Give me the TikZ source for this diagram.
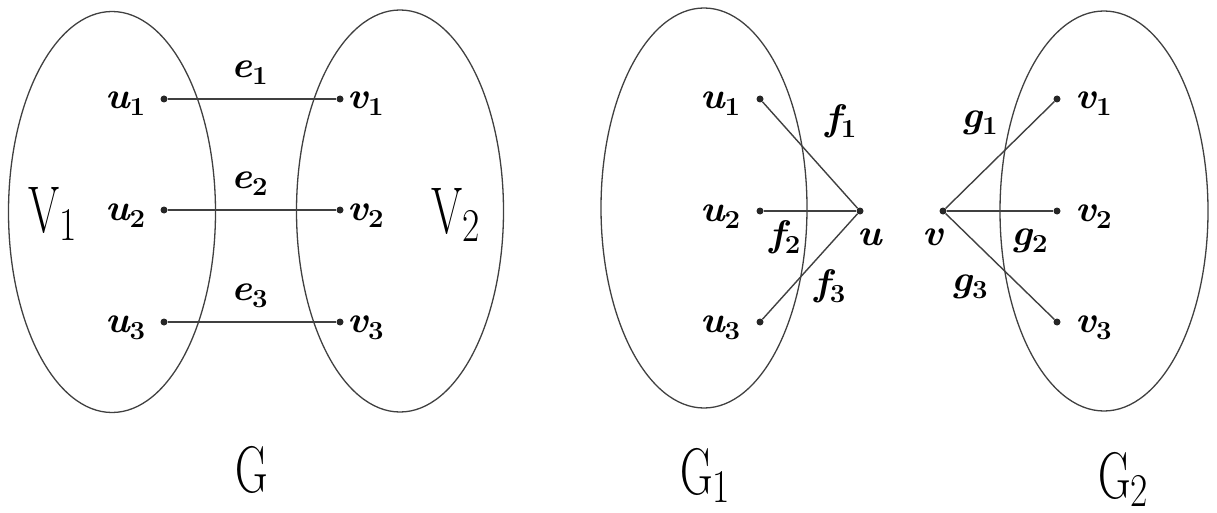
\documentclass[tikz,border=0pt]{standalone}
\usetikzlibrary{shapes.geometric}
\newcommand\smlab[2]{\scalebox{1.06}[1]{\fontsize{37}{37}\selectfont\bfseries\itshape #1\raisebox{-7pt}{\upshape\fontsize{26}{26}\selectfont #2}}}
\newcommand\smone[1]{\scalebox{1.06}[1]{\fontsize{37}{37}\selectfont\bfseries\itshape #1}}
\newcommand\biglab[2]{{\fontsize{66}{66}\selectfont\scalebox{0.68}[1]{#1}}\raisebox{-8pt}{\fontsize{47}{47}\selectfont\scalebox{0.8}[1]{#2}}}
\tikzset{
  dot/.style={circle, fill=black!85, inner sep=0pt, minimum size=7pt},
  lbl/.style={inner sep=0pt, anchor=base west},
  edge/.style={draw=black!75, line width=1.4pt},
  set/.style={ellipse, draw=black!75, line width=1.3pt, inner sep=0pt}
}
\begin{document}
\begin{tikzpicture}[x=1pt,y=-1pt]
\useasboundingbox (0,0) rectangle (1217,513);
% sets
\node[set, minimum width=207pt, minimum height=401pt] (A) at (112,212) {};
\node[set, minimum width=207pt, minimum height=402pt] (B) at (400,211) {};
\node[set, minimum width=206pt, minimum height=400pt] (C) at (704,208) {};
\node[set, minimum width=208pt, minimum height=400pt] (D) at (1104,211) {};
% left graph G
\node[dot] (lu1) at (164,99) {};
\node[dot] (lu2) at (164,210) {};
\node[dot] (lu3) at (164,322) {};
\node[dot] (lv1) at (340,99) {};
\node[dot] (lv2) at (340,210) {};
\node[dot] (lv3) at (340,322) {};
\draw[edge] (lu1) -- (lv1);
\draw[edge] (lu2) -- (lv2);
\draw[edge] (lu3) -- (lv3);
\node[lbl] (Llu1) at (105,109) {\smlab{u}{1}};
\node[lbl] (Llu2) at (105,220) {\smlab{u}{2}};
\node[lbl] (Llu3) at (105,332) {\smlab{u}{3}};
\node[lbl] (Llv1) at (347,109) {\smlab{v}{1}};
\node[lbl] (Llv2) at (347,220) {\smlab{v}{2}};
\node[lbl] (Llv3) at (347,332) {\smlab{v}{3}};
\node[lbl] (Le1) at (231,78) {\smlab{e}{1}};
\node[lbl] (Le2) at (231,189) {\smlab{e}{2}};
\node[lbl] (Le3) at (231,300) {\smlab{e}{3}};
\node[lbl] (LV1) at (28,232) {\biglab{V}{1}};
\node[lbl] (LV2) at (431,233) {\biglab{V}{2}};
\node[lbl] (LG) at (235,492) {{\fontsize{66}{66}\selectfont\scalebox{0.68}[1]{G}}};
% right graphs G1, G2
\node[dot] (ru1) at (760,99) {};
\node[dot] (ru2) at (760,211) {};
\node[dot] (ru3) at (760,322) {};
\node[dot] (ru) at (860,211) {};
\node[dot] (rv) at (943,211) {};
\node[dot] (rv1) at (1057,99) {};
\node[dot] (rv2) at (1057,211) {};
\node[dot] (rv3) at (1057,322) {};
\draw[edge] (ru1) -- (ru);
\draw[edge] (ru2) -- (ru);
\draw[edge] (ru3) -- (ru);
\draw[edge] (rv) -- (rv1);
\draw[edge] (rv) -- (rv2);
\draw[edge] (rv) -- (rv3);
\node[lbl] (Lru1) at (700,109) {\smlab{u}{1}};
\node[lbl] (Lru2) at (700,221) {\smlab{u}{2}};
\node[lbl] (Lru3) at (700,332) {\smlab{u}{3}};
\node[lbl] (Lrv1) at (1075,109) {\smlab{v}{1}};
\node[lbl] (Lrv2) at (1075,221) {\smlab{v}{2}};
\node[lbl] (Lrv3) at (1075,332) {\smlab{v}{3}};
\node[lbl] (Lu) at (857,245) {\smone{u}};
\node[lbl] (Lv) at (922,245) {\smone{v}};
\node[lbl] (Lf1) at (825,131) {\smlab{f}{1}};
\node[lbl] (Lf2) at (769,246) {\smlab{f}{2}};
\node[lbl] (Lf3) at (814,295) {\smlab{f}{3}};
\node[lbl] (Lg1) at (961,128) {\smlab{g}{1}};
\node[lbl] (Lg2) at (1011,245) {\smlab{g}{2}};
\node[lbl] (Lg3) at (951,291) {\smlab{g}{3}};
\node[lbl] (LG1) at (680,494) {\biglab{G}{1}};
\node[lbl] (LG2) at (1098,498) {\biglab{G}{2}};
\end{tikzpicture}
\end{document}
